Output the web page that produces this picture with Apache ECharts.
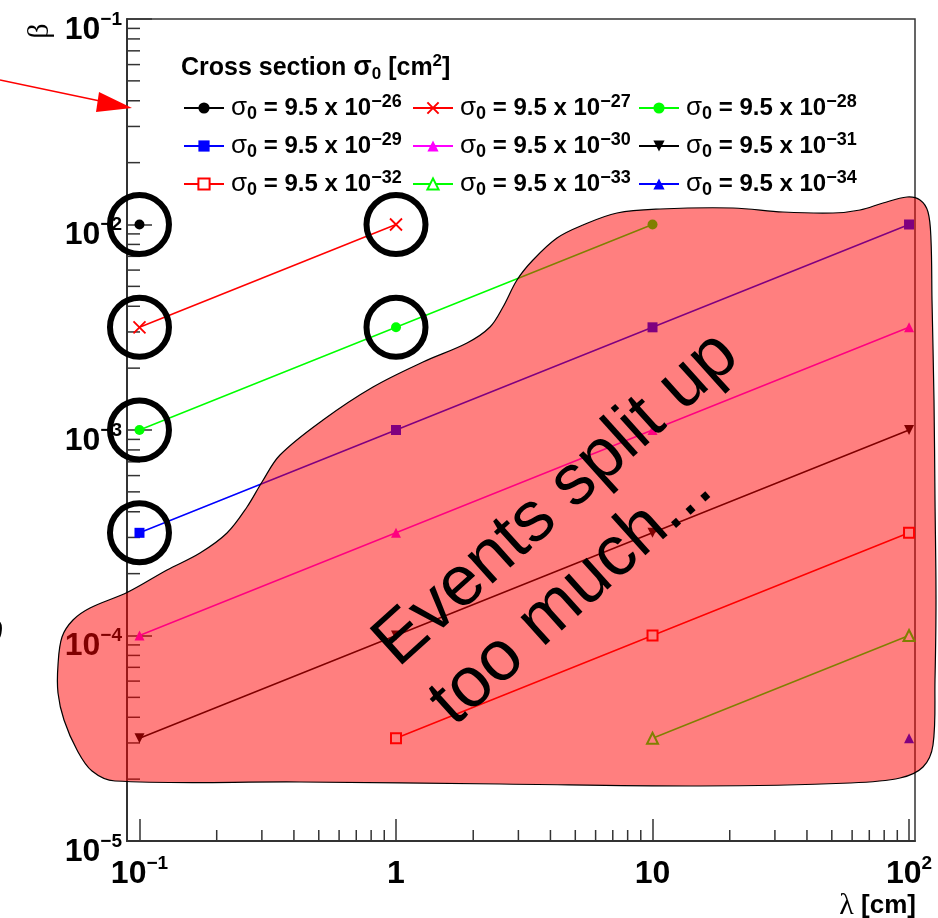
<!DOCTYPE html>
<html>
<head>
<meta charset="utf-8">
<script src="https://cdn.jsdelivr.net/npm/echarts@6/dist/echarts.min.js"></script>
<style>
  html, body { margin: 0; padding: 0; background: #ffffff; }
  #chart { width: 938px; height: 918px; }
</style>
</head>
<body>
<div id="chart"></div>
<script>
// ---- data -------------------------------------------------------------
const LAMBDA = [0.1, 1, 10, 100];                       // λ [cm]
const SIGMA_EXPONENTS = ['-26', '-27', '-28', '-29', '-30', '-31', '-32', '-33', '-34'];
// β for each cross section, one value per λ (null = not measured)
const BETA_S26 = [1.0e-2, null, null, null];
const BETA_S27 = [3.16e-3, 1.0e-2, null, null];
const BETA_S28 = [1.0e-3, 3.16e-3, 1.0e-2, null];
const BETA_S29 = [3.16e-4, 1.0e-3, 3.16e-3, 1.0e-2];
const BETA_S30 = [1.0e-4, 3.16e-4, 1.0e-3, 3.16e-3];
const BETA_S31 = [3.16e-5, 1.0e-4, 3.16e-4, 1.0e-3];
const BETA_S32 = [null, 3.16e-5, 1.0e-4, 3.16e-4];
const BETA_S33 = [null, null, 3.16e-5, 1.0e-4];
const BETA_S34 = [null, null, null, 3.16e-5];

// points singled out with a ring
const RING_LAMBDA = [0.1, 1, 0.1, 1, 0.1, 0.1];
const RING_BETA = [1.0e-2, 1.0e-2, 3.16e-3, 3.16e-3, 1.0e-3, 3.16e-4];

// axes
const X_RANGE = [0.0894, 105.5];
const Y_RANGE = [1e-5, 1e-1];
const X_TICKS = [0.1, 1, 10, 100];
const X_TICK_LABELS = ['10^-1', '1', '10', '10^2'];
const Y_TICKS = [1e-5, 1e-4, 1e-3, 1e-2, 1e-1];
const Y_TICK_LABELS = ['10^-5', '10^-4', '10^-3', '10^-2', '10^-1'];
const MANTISSAS = [2, 3, 4, 5, 6, 7, 8, 9];
const X_MINOR_DECADES = [0.1, 1, 10];
const Y_MINOR_DECADES = [1e-5, 1e-4, 1e-3, 1e-2];

// ---- helpers ----------------------------------------------------------
const FONT = '"Liberation Sans", Arial, Helvetica, sans-serif';
const lg = Math.log10;
const BETAS = [BETA_S26, BETA_S27, BETA_S28, BETA_S29, BETA_S30, BETA_S31, BETA_S32, BETA_S33, BETA_S34];
const seriesName = (e) => 'σ0 = 9.5 x 10^' + e;

const STYLE = [
  { color: '#000000', symbol: 'circle', size: 10 },
  { color: '#ff0000', symbol: 'path://M0,0L10,10M10,0L0,10', size: 12, cross: true },
  { color: '#00ff00', symbol: 'circle', size: 10 },
  { color: '#0000ff', symbol: 'rect', size: 10 },
  { color: '#ff00ff', symbol: 'triangle', size: 10 },
  { color: '#000000', symbol: 'path://M0,0L10,0L5,9Z', size: 10 },
  { color: '#ff0000', symbol: 'emptyRect', size: 10 },
  { color: '#00ff00', symbol: 'emptyTriangle', size: 11 },
  { color: '#0000ff', symbol: 'triangle', size: 10 }
];

function powLabel(s) {
  const parts = s.split('^');
  if (parts.length === 1) return '{b|' + s + '}';
  return '{b|' + parts[0] + '}{sup|' + parts[1].replace('-', '−') + '}';
}
function tickFormatter(ticks, labels) {
  return function (v) {
    const i = ticks.findIndex(t => Math.abs(lg(t) - v) < 1e-6);
    return i < 0 ? '' : powLabel(labels[i]);
  };
}
const AXIS_RICH = {
  b: { fontFamily: FONT, fontWeight: 'bold', fontSize: 32, lineHeight: 40, color: '#000' },
  sup: { fontFamily: FONT, fontWeight: 'bold', fontSize: 19, lineHeight: 16, verticalAlign: 'top', color: '#000' }
};
const LEGEND_RICH = {
  s: { fontFamily: FONT, fontSize: 26, lineHeight: 30, color: '#000' },
  sub: { fontFamily: FONT, fontWeight: 'bold', fontSize: 18, lineHeight: 8, verticalAlign: 'bottom', color: '#000' },
  t: { fontFamily: FONT, fontWeight: 'bold', fontSize: 24, lineHeight: 30, color: '#000' },
  sup: { fontFamily: FONT, fontWeight: 'bold', fontSize: 18, lineHeight: 13, verticalAlign: 'top', color: '#000' }
};
function legendFormatter(name) {
  const e = name.split('^')[1].replace('-', '−');
  return '{s|σ}{sub|0}{t| = 9.5 x 10}{sup|' + e + '}';
}

// ---- series -----------------------------------------------------------
const lineSeries = SIGMA_EXPONENTS.map((e, k) => {
  const st = STYLE[k];
  const pts = [];
  LAMBDA.forEach((l, i) => { if (BETAS[k][i] != null) pts.push([lg(l), lg(BETAS[k][i])]); });
  return {
    type: 'line',
    name: seriesName(e),
    data: pts,
    symbol: st.symbol,
    symbolSize: st.size,
    showSymbol: true,
    z: 3,
    lineStyle: { color: st.color, width: 1.5 },
    itemStyle: st.cross
      ? { color: st.color, borderColor: st.color, borderWidth: 1.8 }
      : { color: st.color },
    emphasis: { disabled: true }
  };
});

const ringSeries = {
  type: 'scatter',
  name: 'rings',
  data: RING_LAMBDA.map((l, i) => [lg(l), lg(RING_BETA[i])]),
  symbol: 'circle',
  symbolSize: 59,
  z: 4,
  itemStyle: { color: 'rgba(0,0,0,0)', borderColor: '#000', borderWidth: 6, opacity: 1 },
  emphasis: { disabled: true },
  silent: true
};

const xMinor = [], yMinor = [];
X_MINOR_DECADES.forEach(d => MANTISSAS.forEach(m => xMinor.push(m * d)));
Y_MINOR_DECADES.forEach(d => MANTISSAS.forEach(m => yMinor.push(m * d)));

const tickStyle = { stroke: '#333', lineWidth: 1.5 };
const xMinorTicks = {
  type: 'custom', name: 'x-minor', silent: true, z: 1,
  data: xMinor.map(v => [lg(v), lg(Y_RANGE[0])]),
  renderItem: (p, api) => {
    const c = api.coord([api.value(0), api.value(1)]);
    return { type: 'line', shape: { x1: c[0], y1: c[1], x2: c[0], y2: c[1] - 11 }, style: tickStyle };
  }
};
const yMinorTicks = {
  type: 'custom', name: 'y-minor', silent: true, z: 1,
  data: yMinor.map(v => [lg(X_RANGE[0]), lg(v)]),
  renderItem: (p, api) => {
    const c = api.coord([api.value(0), api.value(1)]);
    return { type: 'line', shape: { x1: c[0], y1: c[1], x2: c[0] + 13, y2: c[1] }, style: tickStyle };
  }
};

// ---- legend: three columns -------------------------------------------
function legendColumn(left, idx) {
  return {
    orient: 'vertical', left: left, top: 93, padding: 0,
    itemWidth: 40, itemHeight: 14, itemGap: 8,
    selectedMode: false,
    data: idx.map(i => seriesName(SIGMA_EXPONENTS[i])),
    formatter: legendFormatter,
    textStyle: { rich: LEGEND_RICH, padding: [0, 0, 0, 2] }
  };
}

// ---- free-hand overlay ------------------------------------------------
const BLOB = [
  [62, 637], [73, 620], [90, 608], [128, 592], [167, 570], [200, 553], [227, 533],
  [247, 507], [262, 482], [280, 455], [323, 420], [373, 387], [423, 362], [467, 343],
  [490, 327], [503, 307], [517, 280], [533, 260], [557, 238], [583, 225], [617, 213],
  [660, 209], [733, 208], [783, 212], [833, 213], [860, 210], [883, 203], [907, 197],
  [920, 200], [928, 212], [931, 240], [932, 300], [934, 400], [935, 500], [936, 600],
  [935, 680], [933, 745], [923, 767], [900, 778], [850, 783], [700, 786], [500, 784],
  [300, 782], [115, 781], [92, 771], [77, 750], [64, 720], [58, 693], [58, 665]
];
const ROT = 42 * Math.PI / 180;

const option = {
  animation: false,
  backgroundColor: '#ffffff',
  grid: {
    left: 127, top: 19, width: 788, height: 822,
    show: true, borderColor: '#333', borderWidth: 1.5, backgroundColor: 'transparent'
  },
  title: {
    text: '{b|Cross section }{s|σ}{sub|0}{b| [cm}{sup|2}{b|]}',
    left: 176, top: 48,
    textStyle: {
      rich: {
        b: { fontFamily: FONT, fontWeight: 'bold', fontSize: 25, lineHeight: 30, color: '#000' },
        s: { fontFamily: FONT, fontSize: 27, lineHeight: 30, color: '#000' },
        sub: { fontFamily: FONT, fontWeight: 'bold', fontSize: 17, lineHeight: 8, verticalAlign: 'bottom', color: '#000' },
        sup: { fontFamily: FONT, fontWeight: 'bold', fontSize: 17, lineHeight: 13, verticalAlign: 'top', color: '#000' }
      }
    }
  },
  legend: [
    legendColumn(183, [0, 3, 6]),
    legendColumn(412, [1, 4, 7]),
    legendColumn(638, [2, 5, 8])
  ],
  xAxis: {
    type: 'value', min: lg(X_RANGE[0]), max: lg(X_RANGE[1]), position: 'bottom',
    axisLine: { show: true, onZero: false, lineStyle: { color: '#333', width: 2 } },
    axisTick: { show: true, inside: true, length: 22, customValues: X_TICKS.map(lg), lineStyle: { color: '#333', width: 1.5 } },
    axisLabel: { customValues: X_TICKS.map(lg), formatter: tickFormatter(X_TICKS, X_TICK_LABELS), rich: AXIS_RICH, margin: 13 },
    splitLine: { show: false }
  },
  yAxis: {
    type: 'value', min: lg(Y_RANGE[0]), max: lg(Y_RANGE[1]), position: 'left',
    axisLine: { show: true, onZero: false, lineStyle: { color: '#333', width: 2 } },
    axisTick: { show: true, inside: true, length: 25, customValues: Y_TICKS.map(lg), lineStyle: { color: '#333', width: 1.5 } },
    axisLabel: { customValues: Y_TICKS.map(lg), formatter: tickFormatter(Y_TICKS, Y_TICK_LABELS), rich: AXIS_RICH, margin: 5, padding: [22, 0, 0, 0] },
    splitLine: { show: false }
  },
  series: [xMinorTicks, yMinorTicks].concat(lineSeries, [ringSeries]),
  graphic: [
    // axis titles
    {
      type: 'text', x: 40, y: 31, rotation: Math.PI / 2, z: 10,
      style: { text: 'β', font: '30px "Liberation Serif", serif', fill: '#000', textAlign: 'center', verticalAlign: 'middle' }
    },
    {
      type: 'text', x: 916, y: 906, z: 10,
      style: {
        text: '{l|λ}{c| [cm]}', textAlign: 'right', verticalAlign: 'middle',
        rich: {
          l: { fontFamily: '"Liberation Serif", serif', fontSize: 30, color: '#000' },
          c: { fontFamily: FONT, fontWeight: 'bold', fontSize: 26, color: '#000' }
        }
      }
    },
    // arrow
    {
      type: 'line', z: 60, silent: true,
      shape: { x1: 0, y1: 80, x2: 100, y2: 101 },
      style: { stroke: '#ff0000', lineWidth: 1.5 }
    },
    {
      type: 'polygon', z: 60, silent: true,
      shape: { points: [[132, 108], [99, 92], [96, 112]] },
      style: { fill: '#ff0000' }
    },
    // clipped glyph at the left edge
    {
      type: 'text', x: -12, y: 634, z: 10,
      style: { text: '∂', font: '30px "Liberation Sans", sans-serif', fill: '#000', textAlign: 'left', verticalAlign: 'middle' }
    },
    // shaded region
    {
      type: 'polygon', z: 100, silent: true,
      shape: { points: BLOB, smooth: 0.35 },
      style: { fill: 'rgba(255,0,0,0.5)', stroke: '#000', lineWidth: 1.2 }
    },
    {
      type: 'text', x: 385, y: 654, rotation: ROT, z: 101, silent: true,
      style: { text: 'Events split up', font: '71px "Liberation Sans", Arial, sans-serif', fill: '#000', textAlign: 'left', verticalAlign: 'middle' }
    },
    {
      type: 'text', x: 441, y: 713, rotation: ROT, z: 101, silent: true,
      style: { text: 'too much...', font: '71px "Liberation Sans", Arial, sans-serif', fill: '#000', textAlign: 'left', verticalAlign: 'middle' }
    }
  ]
};

const chart = echarts.init(document.getElementById('chart'), null, { renderer: 'canvas' });
chart.setOption(option);
</script>
</body>
</html>
